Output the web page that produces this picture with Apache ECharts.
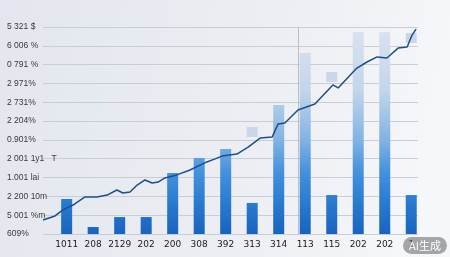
<!DOCTYPE html>
<html>
<head>
<meta charset="utf-8">
<script src="https://cdn.jsdelivr.net/npm/echarts@6/dist/echarts.min.js"></script>
<style>
html,body{margin:0;padding:0;}
#c{width:450px;height:257px;}
</style>
</head>
<body>
<div id="c"></div>
<script>
// ---- data ----
const categories = ["1011","208","2129","202","200","308","392","313","314","113","115","202","202","1"];
const barValues = [18.6, 3.7, 9.0, 9.0, 32.4, 40.4, 45.2, 16.5, 68.6, 96.2, 20.7, 107.3, 107.3, 20.7];
const ghostValues = [null, null, null, null, null, null, null, 56.9, null, null, 86.1, null, null, 106.8];
const yTickLabels = ["609%", "5 001 %m", "2 200 10m", "1.001 lai", "2 001 1y1   T", "0.901%", "2 204%", "2 731%", "2 971%", "0 791 %", "6 006 %", "5 321 $"];
const lineX = [0, 3.2, 5.3, 8.0, 11.2, 14.4, 17.1, 19.7, 21.3, 23.2, 25.1, 27.2, 29.1, 30.7, 32.5, 35.7, 39.2, 43.7, 45.9, 47.7, 51.7, 54.7, 57.9, 61.1, 62.7, 64.5, 68.0, 72.5, 77.3, 78.7, 83.7, 86.4, 89.1, 91.7, 94.7, 97.1, 98.4, 99.5];
const lineY = [7.4, 9.6, 12.8, 15.4, 19.7, 19.7, 20.7, 23.4, 21.8, 22.3, 26.0, 28.7, 27.1, 27.6, 29.8, 31.4, 34.0, 38.3, 39.9, 41.4, 42.5, 46.2, 51.0, 51.5, 58.5, 59.0, 65.9, 69.1, 79.2, 77.6, 88.2, 91.4, 94.1, 93.5, 98.8, 99.4, 105.7, 108.9];
const markerX = 68.0;

// ---- chart ----
const chart = echarts.init(document.getElementById('c'), null, {renderer: 'canvas'});
const barGrad = new echarts.graphic.LinearGradient(0, 27, 0, 234, [
  {offset: 0, color: '#dbe3ee'},
  {offset: 0.3, color: '#c4d6eb'},
  {offset: 0.55, color: '#80b2e3'},
  {offset: 0.7, color: '#4491dc'},
  {offset: 0.85, color: '#2a7ad0'},
  {offset: 1, color: '#1863be'}
], true);

const ghostData = ghostValues.map(v => {
  if (v == null) return null;
  const f = Math.min(1, 5.3 / v);
  return {
    value: v,
    itemStyle: {
      color: new echarts.graphic.LinearGradient(0, 0, 0, 1, [
        {offset: 0, color: 'rgba(200,213,232,0.95)'},
        {offset: f, color: 'rgba(200,213,232,0.9)'},
        {offset: Math.min(1, f + 0.001), color: 'rgba(200,213,232,0)'},
        {offset: 1, color: 'rgba(200,213,232,0)'}
      ])
    }
  };
});

chart.setOption({
  animation: false,
  backgroundColor: {
    type: 'linear', x: 0, y: 0, x2: 1, y2: 0.4,
    colorStops: [{offset: 0, color: '#e3e6ee'}, {offset: 0.6, color: '#eceef3'}, {offset: 1, color: '#f6f7fa'}]
  },
  grid: [
    {left: 53.4, right: 25.5, top: 27, bottom: 23},
    {left: 43, right: 32, top: 27, bottom: 23}
  ],
  xAxis: [
    {
      type: 'category', gridIndex: 0, data: categories,
      axisLine: {show: false}, axisTick: {show: false},
      axisLabel: {fontSize: 9, color: '#1a1a1a', margin: 6, interval: 0, fontFamily: 'DejaVu Sans'}
    },
    {type: 'value', gridIndex: 1, min: 0, max: 100, show: false}
  ],
  yAxis: [
    {type: 'value', gridIndex: 0, min: 0, max: 110, show: false},
    {
      type: 'value', gridIndex: 1, min: 0, max: 110, interval: 10,
      axisLine: {show: false}, axisTick: {show: false},
      axisLabel: {
        fontSize: 8.5, color: '#3a3a3a', align: 'left', margin: 36,
        formatter: v => yTickLabels[Math.round(v / 10)] || ''
      },
      splitLine: {lineStyle: {color: '#c8cdd7', width: 1}}
    }
  ],
  series: [
    {
      type: 'bar', xAxisIndex: 0, yAxisIndex: 0, data: barValues,
      barWidth: 11, itemStyle: {color: barGrad}, z: 2
    },
    {
      type: 'bar', xAxisIndex: 0, yAxisIndex: 0, data: ghostData,
      barWidth: 11, barGap: '-100%', z: 3
    },
    {
      type: 'line', xAxisIndex: 1, yAxisIndex: 1,
      data: lineX.map((x, i) => [x, lineY[i]]),
      symbol: 'none', smooth: false,
      lineStyle: {color: '#1d4f8a', width: 1.5},
      z: 5,
      markLine: {
        silent: true, symbol: 'none', label: {show: false},
        lineStyle: {color: '#b9bec8', width: 1, type: 'solid'},
        data: [{xAxis: markerX}]
      }
    }
  ],
  graphic: [
    {
      type: 'group', right: 3, bottom: 3, z: 100,
      children: [
        {type: 'rect', z: 100, shape: {x: 0, y: 0, width: 44, height: 17, r: 8.5}, style: {fill: 'rgba(110,110,115,0.6)'}},
        {type: 'text', z: 101, style: {x: 22, y: 8.5, text: 'AI生成', fill: '#ffffff', font: '11px "Noto Sans CJK SC"', align: 'center', verticalAlign: 'middle'}}
      ]
    }
  ]
});
</script>
</body>
</html>
